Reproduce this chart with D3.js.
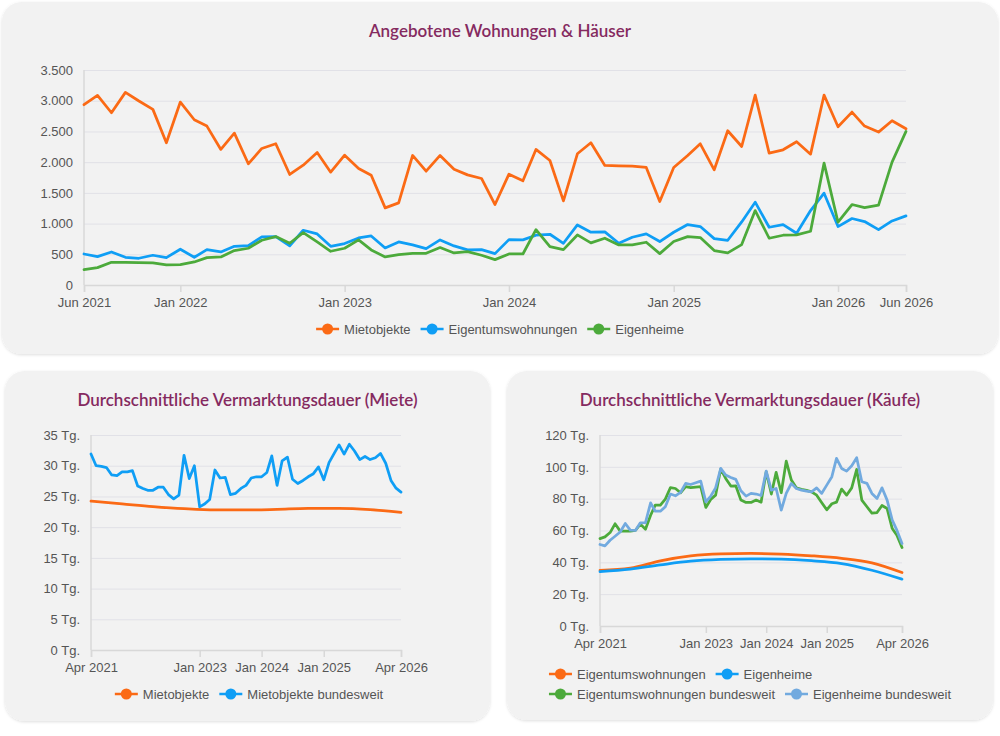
<!DOCTYPE html>
<html>
<head>
<meta charset="utf-8">
<script src="https://cdn.jsdelivr.net/npm/d3@7"></script>
<style>
  body { margin: 0; background: #fff; }
  svg text { font-family: "Liberation Sans", Arial, sans-serif; }
</style>
</head>
<body>
<svg id="chart" width="1000" height="736"></svg>
<script>
// --- data ---
// top chart: monthly, Jun 2021 .. Jun 2026
const mietobjekte = [2935,3087,2804,3136,2995,2859,2315,
  2978,2690,2587,2207,2473,1973,2223,2299,1799,1951,2158,1837,
  2114,1897,1788,1255,1337,2109,1853,2109,1886,1793,1734,1310,
  1804,1696,2207,2027,1370,2136,2315,1946,1940,1935,1913,1359,
  1913,2109,2299,1875,2511,2255,3092,2147,2201,2332,2130,3092,
  2576,2815,2587,2489,2674,2543];
const eigentumswohnungen = [505,462,538,451,435,484,446,
  582,451,576,538,630,641,783,788,636,891,832,630,
  674,766,799,603,701,652,592,734,636,571,576,511,
  739,734,810,826,679,978,859,864,679,777,832,707,
  859,984,951,755,728,1027,1348,940,984,842,1212,1495,
  951,1082,1033,902,1043,1125];
const eigenheime = [250,283,370,370,364,359,326,
  332,375,446,457,560,598,728,788,679,853,701,549,
  598,734,571,457,495,516,516,609,522,543,484,413,
  505,505,902,625,576,815,685,761,652,652,696,511,
  707,788,772,560,522,658,1212,761,810,815,875,1984,
  1022,1310,1261,1299,2000,2500];

// bottom left: Apr 2021 .. Apr 2026
const mieteLokal = [24.25,23.8,23.35,23.0,22.8,22.8,22.9,23.05,23.05,22.85,22.4]; // every 6 months
const mieteBund = [31.9,30.0,29.9,29.7,28.5,28.4,29.0,29.0,29.2,26.7,26.3,26.0,26.0,26.5,26.5,25.3,
  24.6,25.2,31.7,27.9,30.0,23.3,23.8,24.5,29.3,28.0,28.1,25.3,25.5,26.3,26.8,28.0,
  28.2,28.2,28.9,31.6,26.8,30.8,31.4,27.8,27.1,27.6,28.2,28.7,29.8,27.7,30.5,31.9,
  33.4,31.9,33.5,32.4,31.0,31.5,31.0,31.3,32.0,30.4,27.6,26.4,25.7];

// bottom right: Apr 2021 .. Apr 2026
const kaufEtw = [35.0,36.3,40.9,44.0,45.3,45.6,45.2,44.1,42.5,39.7,33.6]; // every 6 months
const kaufEh = [34.2,35.8,38.4,40.7,41.8,42.2,42.0,41.0,39.2,35.0,29.4];
const kaufEtwBund = [54.9,56.0,58.7,64.2,59.6,59.6,59.6,60.0,64.0,60.8,69.6,75.9,75.9,79.7,87.0,86.4,
  83.7,87.5,87.0,87.3,87.5,74.5,79.7,82.2,98.6,92.7,87.9,88.1,79.1,77.6,77.6,79.1,
  77.8,96.9,82.9,96.5,83.7,103.6,91.7,86.8,85.8,85.2,84.3,82.2,77.6,73.0,76.8,77.8,
  86.0,82.2,86.8,98.4,79.1,74.9,70.9,71.3,75.7,73.8,61.2,57.0,49.3];
const kaufEhBund = [51.2,50.3,53.9,56.4,59.1,64.4,60.2,60.0,64.8,65.0,77.4,72.1,72.1,74.9,82.9,81.8,
  83.9,89.6,88.9,90.0,91.0,78.0,81.8,86.8,99.0,94.8,93.3,92.1,85.0,81.6,83.3,82.9,
  82.0,97.3,85.4,86.4,72.8,83.3,89.6,86.4,85.4,84.7,84.3,86.8,83.3,88.5,93.8,105.3,
  99.0,97.3,100.7,105.7,90.6,89.6,83.3,80.1,86.8,79.1,66.5,60.2,51.8];

const topTicks = ["2021-06","2022-01","2023-01","2024-01","2025-01","2026-01","2026-06"];
const topTickLabels = ["Jun 2021","Jan 2022","Jan 2023","Jan 2024","Jan 2025","Jan 2026","Jun 2026"];
const bottomTicks = ["2021-04","2023-01","2024-01","2025-01","2026-04"];
const bottomTickLabels = ["Apr 2021","Jan 2023","Jan 2024","Jan 2025","Apr 2026"];

const titles = ["Angebotene Wohnungen & Häuser",
  "Durchschnittliche Vermarktungsdauer (Miete)",
  "Durchschnittliche Vermarktungsdauer (Käufe)"];

const colors = { orange: "#fb6a15", blue: "#0f9ef5", green: "#4caa3b", lightblue: "#72aadf" };

// --- helpers ---
const parseMonth = d3.timeParse("%Y-%m");
const series = (start, values, step) =>
  values.map((v, i) => ({ date: d3.timeMonth.offset(parseMonth(start), i * step), value: v }));
const fmtDe = d3.formatLocale({ decimal: ",", thousands: ".", grouping: [3], currency: ["", "€"] }).format(",d");

const svg = d3.select("#chart");
const shadow = svg.append("defs").append("filter").attr("id", "shadow")
  .attr("x", "-5%").attr("y", "-5%").attr("width", "110%").attr("height", "110%");
shadow.append("feDropShadow").attr("dx", 0).attr("dy", 1).attr("stdDeviation", 1.5)
  .attr("flood-color", "#000").attr("flood-opacity", 0.13);

function panel(x, y, w, h, title) {
  svg.append("rect").attr("x", x).attr("y", y).attr("width", w).attr("height", h)
    .attr("rx", 20).attr("fill", "#f2f2f2").attr("filter", "url(#shadow)");
  svg.append("text").attr("x", x + w / 2).attr("y", y + 35).attr("text-anchor", "middle")
    .style("font-family", "Lato, sans-serif").style("font-size", "17px").style("font-weight", "600")
    .attr("fill", "#852a60").text(title);
}

function chart(cfg) {
  const g = svg.append("g");
  const x = d3.scaleTime().domain(cfg.xDomain.map(parseMonth)).range(cfg.xRange);
  const y = d3.scaleLinear().domain(cfg.yDomain).range(cfg.yRange);

  // grid + y labels
  const ya = g.append("g").attr("transform", `translate(${cfg.xRange[0]},0)`)
    .call(d3.axisLeft(y).tickValues(cfg.yTicks).tickFormat(cfg.yFmt)
      .tickSize(-(cfg.xRange[1] - cfg.xRange[0])).tickPadding(11));
  ya.select(".domain").remove();
  ya.selectAll(".tick line").attr("stroke", "#e1e1e7");
  ya.selectAll(".tick text").attr("fill", "#555").style("font-size", "13px");
  g.append("line").attr("x1", cfg.xRange[0]).attr("x2", cfg.xRange[0])
    .attr("y1", cfg.yRange[1]).attr("y2", cfg.yRange[0]).attr("stroke", "#d8d8d8").attr("stroke-width", 1.5);

  // x axis
  const xa = g.append("g").attr("transform", `translate(0,${cfg.yRange[0]})`)
    .call(d3.axisBottom(x).tickValues(cfg.xTicks.map(parseMonth))
      .tickFormat((d, i) => cfg.xLabels[i]).tickSize(7));
  xa.select(".domain").attr("stroke", "#d8d8d8").attr("stroke-width", 1.5);
  xa.selectAll(".tick line").attr("stroke", "#d8d8d8").attr("stroke-width", 1.5);
  xa.selectAll(".tick text").attr("fill", "#555").style("font-size", "13px").attr("dy", null).attr("y", 22);

  // lines
  cfg.series.forEach(s => {
    const line = d3.line().x(d => x(d.date)).y(d => y(d.value))
      .curve(s.smooth ? d3.curveMonotoneX : d3.curveLinear);
    g.append("path").datum(s.data).attr("d", line).attr("fill", "none")
      .attr("stroke", s.color).attr("stroke-width", 2.75)
      .attr("stroke-linejoin", "round").attr("stroke-linecap", "round");
  });

  // legend, rows centred as a block
  const lg = g.append("g");
  const rows = cfg.legendRows.map((row, ri) => {
    let cx = 0;
    const rg = lg.append("g");
    row.forEach(item => {
      const ig = rg.append("g").attr("transform", `translate(${cx},0)`);
      ig.append("line").attr("x1", 0).attr("x2", 23).attr("stroke", item.color).attr("stroke-width", 2.5);
      ig.append("circle").attr("cx", 11.5).attr("r", 5.5).attr("fill", item.color);
      const t = ig.append("text").attr("x", 28).attr("y", 4.5).attr("fill", "#555")
        .style("font-size", "13px").text(item.name);
      cx += 28 + t.node().getComputedTextLength() + 10;
    });
    return { rg, w: cx - 10, y: cfg.legendY + ri * 20 };
  });
  const maxW = d3.max(rows, r => r.w);
  rows.forEach(r => r.rg.attr("transform", `translate(${cfg.legendCx - maxW / 2},${r.y})`));
}

// --- panels ---
panel(2, 2, 996, 352, titles[0]);
panel(5, 371, 485, 350, titles[1]);
panel(507, 371, 486, 349, titles[2]);

chart({
  xDomain: ["2021-06", "2026-06"], xRange: [84, 906],
  yDomain: [0, 3500], yRange: [285, 70], yTicks: d3.range(0, 3501, 500), yFmt: fmtDe,
  xTicks: topTicks, xLabels: topTickLabels,
  series: [
    { data: series("2021-06", mietobjekte, 1), color: colors.orange },
    { data: series("2021-06", eigentumswohnungen, 1), color: colors.blue },
    { data: series("2021-06", eigenheime, 1), color: colors.green }
  ],
  legendRows: [[{ name: "Mietobjekte", color: colors.orange },
    { name: "Eigentumswohnungen", color: colors.blue },
    { name: "Eigenheime", color: colors.green }]],
  legendCx: 500, legendY: 329
});

chart({
  xDomain: ["2021-04", "2026-04"], xRange: [91, 401],
  yDomain: [0, 35], yRange: [650, 435], yTicks: d3.range(0, 36, 5), yFmt: d => d + " Tg.",
  xTicks: bottomTicks, xLabels: bottomTickLabels,
  series: [
    { data: series("2021-04", mieteLokal, 6), color: colors.orange, smooth: true },
    { data: series("2021-04", mieteBund, 1), color: colors.blue }
  ],
  legendRows: [[{ name: "Mietobjekte", color: colors.orange },
    { name: "Mietobjekte bundesweit", color: colors.blue }]],
  legendCx: 249, legendY: 694
});

chart({
  xDomain: ["2021-04", "2026-04"], xRange: [600, 902],
  yDomain: [0, 120], yRange: [626, 435], yTicks: d3.range(0, 121, 20), yFmt: d => d + " Tg.",
  xTicks: bottomTicks, xLabels: bottomTickLabels,
  series: [
    { data: series("2021-04", kaufEtw, 6), color: colors.orange, smooth: true },
    { data: series("2021-04", kaufEh, 6), color: colors.blue, smooth: true },
    { data: series("2021-04", kaufEtwBund, 1), color: colors.green },
    { data: series("2021-04", kaufEhBund, 1), color: colors.lightblue }
  ],
  legendRows: [[{ name: "Eigentumswohnungen", color: colors.orange },
    { name: "Eigenheime", color: colors.blue }],
    [{ name: "Eigentumswohnungen bundesweit", color: colors.green },
    { name: "Eigenheime bundesweit", color: colors.lightblue }]],
  legendCx: 750, legendY: 674
});
</script>
</body>
</html>
